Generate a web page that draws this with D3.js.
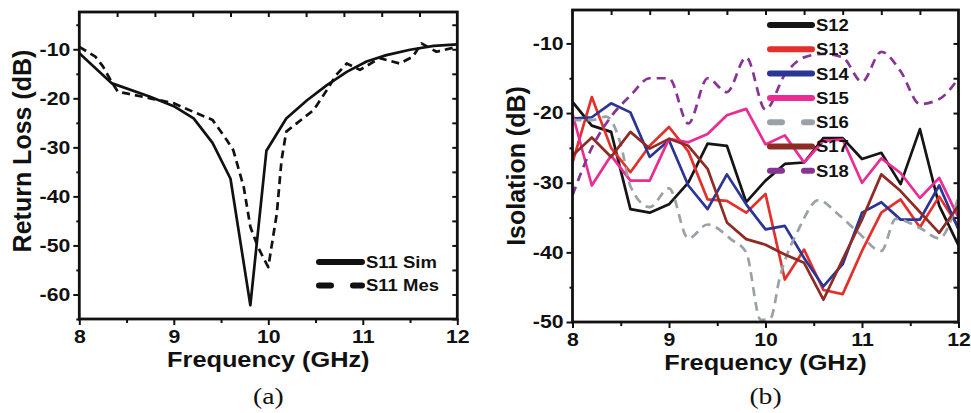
<!DOCTYPE html>
<html>
<head>
<meta charset="utf-8">
<script src="https://cdn.jsdelivr.net/npm/d3@7"></script>
<style>
  body { margin: 0; background: #fff; }
  svg text { font-family: "Liberation Sans", Arial, sans-serif; font-weight: bold; fill: #111; }
  .tick line { stroke: #111; stroke-width: 2; }
</style>
</head>
<body>
<svg id="chart" width="971" height="413"></svg>
<script>
// ---- (a) return loss ----
const simFreq = [8.0, 8.34, 8.75, 9.0, 9.21, 9.41, 9.6, 9.81, 9.98, 10.19, 10.41, 10.62, 10.83, 11.04, 11.25, 11.5, 11.75, 12.0];
const simS11 = [-10.8, -16.9, -19.7, -21.6, -24.1, -29.1, -36.4, -62.2, -30.7, -24.1, -20.4, -17.3, -14.6, -12.5, -11.2, -10.1, -9.3, -9.0];

const mesFreq = [8.0, 8.17, 8.25, 8.34, 8.41, 8.5, 8.75, 9.0, 9.2, 9.41, 9.56, 9.63, 9.74, 9.81, 9.89, 9.98, 10.0, 10.09, 10.14, 10.19, 10.3, 10.48, 10.62, 10.72, 10.83, 10.97, 11.18, 11.39, 11.53, 11.62, 11.78, 12.0];
const mesS11 = [-9.5, -11.5, -13.5, -16.6, -18.7, -19.0, -20.0, -21.0, -22.7, -24.4, -28.5, -30.6, -38.1, -46.2, -50.3, -53.7, -54.4, -43.5, -32.6, -26.8, -25.1, -22.4, -18.3, -15.2, -12.9, -14.2, -11.8, -12.9, -11.5, -8.8, -10.5, -9.5];

// ---- (b) isolation ----
const isoFreq = [8.0, 8.2, 8.4, 8.6, 8.8, 9.0, 9.2, 9.4, 9.6, 9.8, 10.0, 10.2, 10.4, 10.6, 10.8, 11.0, 11.2, 11.4, 11.6, 11.8, 12.0];
const s12 = [-18.4, -21.8, -22.7, -33.8, -34.3, -33.1, -30.0, -24.4, -24.7, -32.8, -29.7, -27.3, -27.1, -23.6, -23.6, -26.6, -25.7, -30.2, -22.3, -33.3, -39.0];
const s13 = [-27.1, -17.7, -25.0, -28.5, -24.7, -22.0, -25.5, -32.4, -32.6, -34.3, -31.6, -43.9, -39.6, -45.4, -46.0, -39.8, -34.3, -32.4, -36.4, -32.0, -36.3];
const s14 = [-20.8, -20.6, -18.6, -19.9, -26.3, -23.9, -30.4, -33.8, -28.8, -33.1, -36.7, -36.2, -40.8, -44.9, -41.7, -34.3, -32.8, -35.3, -35.3, -30.4, -36.7];
const s15 = [-20.1, -30.4, -26.1, -29.7, -29.7, -23.7, -24.2, -23.0, -20.3, -19.4, -24.5, -23.2, -27.1, -24.0, -23.8, -30.0, -26.5, -28.6, -32.2, -29.3, -35.0];
const s16Freq = [8.0, 8.2, 8.35, 8.5, 8.6, 8.8, 9.0, 9.2, 9.4, 9.65, 9.8, 9.95, 10.05, 10.15, 10.35, 10.55, 10.75, 10.95, 11.2, 11.35, 11.6, 11.8, 12.0];
const s16 = [-21.0, -21.0, -20.5, -24.5, -30.5, -33.5, -30.8, -38.0, -36.0, -38.2, -40.0, -49.7, -49.5, -43.5, -36.5, -32.5, -34.5, -37.0, -39.8, -35.2, -36.5, -38.0, -32.0];
const s17 = [-26.1, -23.5, -26.3, -22.7, -25.1, -23.7, -24.7, -28.0, -35.7, -38.1, -38.9, -40.3, -41.5, -46.8, -41.0, -35.3, -28.8, -31.2, -34.2, -37.2, -33.3];
const s18 = [-31.8, -25.0, -20.5, -17.5, -15.0, -15.0, -21.5, -15.0, -17.0, -12.0, -19.5, -14.5, -12.0, -11.5, -12.0, -15.5, -11.2, -14.0, -18.7, -18.0, -15.0];

const xMajor = [8, 9, 10, 11, 12];
const xMinor = [8.5, 9.5, 10.5, 11.5];
const xTop = [8.4, 8.8, 9.2, 9.6, 10.0, 10.4, 10.8, 11.2, 11.6];
const yMajorA = [-10, -20, -30, -40, -50, -60];
const yMinorA = [-5, -15, -25, -35, -45, -55, -65];
const yMajorB = [-10, -20, -30, -40, -50];
const yMinorB = [-15, -25, -35, -45];

const svg = d3.select('#chart');
const plain = d => String(d); // keep a plain hyphen for negatives

function stretch(sel, k) {
  sel.each(function () {
    const w = this.getComputedTextLength();
    d3.select(this).attr('textLength', w * k).attr('lengthAdjust', 'spacingAndGlyphs');
  });
}

function panel(o) {
  const g = svg.append('g');
  const x = d3.scaleLinear().domain([8, 12]).range([o.left, o.right]);
  const y = d3.scaleLinear().domain(o.yDomain).range([o.bottom, o.top]);

  const clipId = 'clip-' + o.id;
  svg.append('clipPath').attr('id', clipId)
    .append('rect')
    .attr('x', o.left).attr('y', o.top)
    .attr('width', o.right - o.left).attr('height', o.bottom - o.top);

  // bottom axis
  g.append('g').attr('transform', `translate(0,${o.bottom})`)
    .call(d3.axisBottom(x).tickValues(xMinor).tickSize(4).tickFormat(''));
  const xb = g.append('g').attr('transform', `translate(0,${o.bottom})`)
    .call(d3.axisBottom(x).tickValues(xMajor).tickSize(6).tickPadding(o.xPad).tickFormat(plain));
  xb.selectAll('text').style('font-size', '18px');
  // top (inward)
  g.append('g').attr('transform', `translate(0,${o.top})`)
    .call(d3.axisBottom(x).tickValues(xTop).tickSize(5).tickFormat(''));

  // left axis
  g.append('g').attr('transform', `translate(${o.left},0)`)
    .call(d3.axisLeft(y).tickValues(o.yMinor).tickSize(3).tickFormat(''));
  const yl = g.append('g').attr('transform', `translate(${o.left},0)`)
    .call(d3.axisLeft(y).tickValues(o.yMajor).tickSize(6).tickPadding(3).tickFormat(plain));
  yl.selectAll('text').style('font-size', '18px');
  // right (inward)
  g.append('g').attr('transform', `translate(${o.right},0)`)
    .call(d3.axisLeft(y).tickValues(o.yMajor.concat(o.yMinor)).tickSize(5).tickFormat(''));

  g.selectAll('.domain').remove();
  g.selectAll('.tick text').call(stretch, 1.18);

  // series
  const plot = g.append('g').attr('clip-path', `url(#${clipId})`);
  o.series.forEach(s => {
    const line = d3.line()
      .x((d, i) => x(s.x[i]))
      .y(d => y(d))
      .curve(s.smooth ? d3.curveMonotoneX : d3.curveLinear);
    plot.append('path')
      .attr('d', line(s.y))
      .attr('fill', 'none')
      .attr('stroke', s.color)
      .attr('stroke-width', 2.7)
      .attr('stroke-linejoin', 'round')
      .attr('stroke-dasharray', s.dash || null);
  });

  // frame
  g.append('rect')
    .attr('x', o.left).attr('y', o.top)
    .attr('width', o.right - o.left).attr('height', o.bottom - o.top)
    .attr('fill', 'none').attr('stroke', '#111').attr('stroke-width', 2.8);

  // legend
  o.series.forEach((s, i) => {
    const ly = o.legend.y + i * o.legend.step;
    g.append('line')
      .attr('x1', o.legend.x1).attr('x2', o.legend.x2)
      .attr('y1', ly).attr('y2', ly)
      .attr('stroke', s.color).attr('stroke-width', 6)
      .attr('stroke-linecap', 'round')
      .attr('stroke-dasharray', s.dash ? '12,22' : null);
    g.append('text')
      .attr('x', o.legend.x2 + 4).attr('y', ly).attr('dy', '0.36em')
      .style('font-size', '16.5px')
      .text(s.name)
      .call(stretch, 1.12);
  });

  // axis titles
  g.append('text')
    .attr('x', (o.left + o.right) / 2).attr('y', o.xTitleY)
    .attr('text-anchor', 'middle').style('font-size', '22px')
    .text('Frequency (GHz)')
    .call(stretch, 1.15);
  g.append('text')
    .attr('transform', `translate(${o.yTitleX},${o.yTitleY}) rotate(-90)`)
    .attr('text-anchor', 'middle').attr('dy', '0.35em').style('font-size', '25px')
    .text(o.yTitle);

  // panel label
  g.append('text')
    .attr('x', (o.left + o.right) / 2).attr('y', 404)
    .attr('text-anchor', 'middle')
    .style('font-family', '"Liberation Serif", "Times New Roman", serif')
    .style('font-weight', 'normal')
    .style('font-size', '24px')
    .text(o.label)
    .call(stretch, 1.15);
}

panel({
  id: 'a', left: 79.3, right: 457.3, top: 12, bottom: 319,
  yDomain: [-65, -2.4], yMajor: yMajorA, yMinor: yMinorA, xPad: 5,
  xTitleY: 367, yTitle: 'Return Loss (dB)', yTitleX: 22, yTitleY: 151, label: '(a)',
  legend: { x1: 319, x2: 362, y: 262, step: 23.5 },
  series: [
    { name: 'S11 Sim', x: simFreq, y: simS11, color: '#111' },
    { name: 'S11 Mes', x: mesFreq, y: mesS11, color: '#111', dash: '8,5' }
  ]
});

panel({
  id: 'b', left: 572.5, right: 958.5, top: 10, bottom: 322,
  yDomain: [-50, -5.2], yMajor: yMajorB, yMinor: yMinorB, xPad: 5,
  xTitleY: 370, yTitle: 'Isolation (dB)', yTitleX: 516, yTitleY: 166, label: '(b)',
  legend: { x1: 770, x2: 812, y: 25, step: 24.3 },
  series: [
    { name: 'S12', x: isoFreq, y: s12, color: '#151515' },
    { name: 'S13', x: isoFreq, y: s13, color: '#e3302a' },
    { name: 'S14', x: isoFreq, y: s14, color: '#2a3595' },
    { name: 'S15', x: isoFreq, y: s15, color: '#ec2b94' },
    { name: 'S16', x: s16Freq, y: s16, color: '#9aa1a7', dash: '9,6', smooth: true },
    { name: 'S17', x: isoFreq, y: s17, color: '#8e2b24' },
    { name: 'S18', x: isoFreq, y: s18, color: '#873494', dash: '9,6', smooth: true }
  ]
});
</script>
</body>
</html>
